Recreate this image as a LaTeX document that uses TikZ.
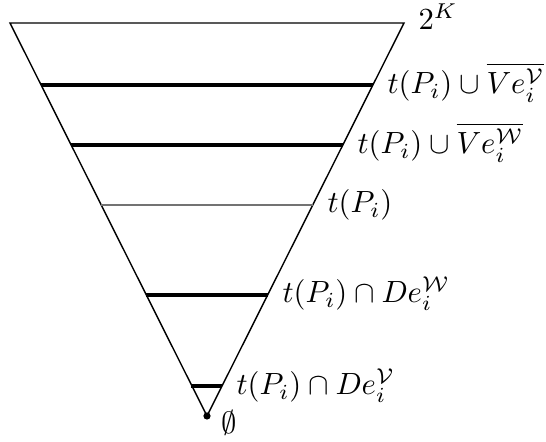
\documentclass[tikz,border=0pt]{standalone}
\newcommand{\bigtxt}[1]{\scalebox{1.08}{#1}}
\begin{document}
\begin{tikzpicture}[x=0.352pt,y=-0.352pt,
  edge/.style={line width=0.5pt},
  level/.style={line width=1.7pt},
  midlevel/.style={line width=0.65pt, black!55},
  lab/.style={inner sep=0pt, anchor=base west}]
\useasboundingbox (0,0) rectangle (546,442);
% triangle corners
\coordinate (TL) at (10,23);
\coordinate (TR) at (404,23);
\coordinate (A) at (207,416);
\draw[edge] (TL) -- (TR) -- (A) -- cycle;
% level lines
\coordinate (l1) at (41,85);   \coordinate (r1) at (373,85);
\coordinate (l2) at (71,145);  \coordinate (r2) at (343,145);
\coordinate (l3) at (101,205); \coordinate (r3) at (313,205);
\coordinate (l4) at (146,295); \coordinate (r4) at (268,295);
\coordinate (l5) at (191.5,386); \coordinate (r5) at (222.5,386);
\draw[level] (l1) -- (r1);
\draw[level] (l2) -- (r2);
\draw[midlevel] (l3) -- (r3);
\draw[level] (l4) -- (r4);
\draw[level] (l5) -- (r5);
\fill (A) circle (3.6);
% labels
\node[lab] (k) at (418,30) {\bigtxt{$2^K$}};
\node[lab] (t1) at (387,94) {\bigtxt{$t(P_i)\cup\overline{Ve_i^{\mathcal{V}}}$}};
\node[lab] (t2) at (357,154) {\bigtxt{$t(P_i)\cup\overline{Ve_i^{\mathcal{W}}}$}};
\node[lab] (t3) at (327,213) {\bigtxt{$t(P_i)$}};
\node[lab] (t4) at (282,303) {\bigtxt{$t(P_i)\cap De_i^{\mathcal{W}}$}};
\node[lab] (t5) at (236,395) {\bigtxt{$t(P_i)\cap De_i^{\mathcal{V}}$}};
\node[lab] (e) at (221,434) {\bigtxt{$\emptyset$}};
\end{tikzpicture}
\end{document}
